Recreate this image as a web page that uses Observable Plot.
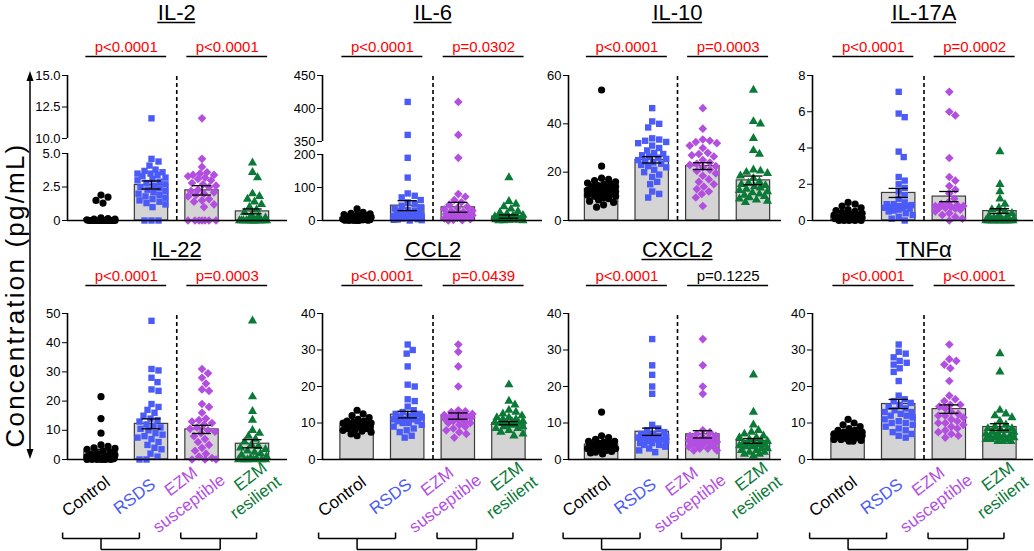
<!DOCTYPE html>
<html>
<head>
<meta charset="utf-8">
<script src="https://cdn.jsdelivr.net/npm/d3@7"></script>
<script src="https://cdn.jsdelivr.net/npm/@observablehq/plot@0.6"></script>
<style>
  html, body { margin: 0; padding: 0; background: #fff; }
  #chart { position: relative; width: 1034px; height: 551px; overflow: hidden; background: #fff;
           font-family: "Liberation Sans", Arial, Helvetica, sans-serif; }
  #ylabsvg { position: absolute; left: 0; top: 0; overflow: visible; }
</style>
</head>
<body>
<div id="chart">
  <svg id="ylabsvg" width="40" height="551">
    <text transform="translate(24,295) rotate(-90)" text-anchor="middle"
          font-family="Liberation Sans, Arial, sans-serif" font-size="26" letter-spacing="2.2" fill="#000">Concentration (pg/mL)</text>
    <line x1="30" y1="76" x2="30" y2="454" stroke="#000" stroke-width="1.5"></line>
    <polygon points="30,71 26.5,81 33.5,81" fill="#000"></polygon>
    <polygon points="30,459 26.5,449 33.5,449" fill="#000"></polygon>
  </svg>
</div>
<script>
// ---------------- groups ----------------
const groupNames = ["Control", "RSDS", "EZM susceptible", "EZM resilient"];
const groupColors = ["#000000", "#4b5bf7", "#b34fe0", "#0b7a37"];
const groupSymbols = ["circle", "square", "diamond2", "triangle"];

// ---------------- IL-2 ----------------
const il2Control = [0,0,0,0,0,0,0,0,0,0,0,0,0,0,0,0,0,0,0,0,0,0,0,0,0.05,0.1,0.1,0.15,0.2,1.3,1.5,1.75,1.9];
const il2RSDS = [11.6,4.6,4.4,4.1,3.8,3.7,3.6,3.5,3.5,3.4,3.3,3.2,3.1,3.0,2.9,2.8,2.7,2.6,2.5,2.4,2.3,2.2,2.1,2.0,1.9,1.8,1.7,1.6,1.5,1.4,1.3,1.2,1.0,0,0,0];
const il2Susceptible = [11.6,4.6,4.0,3.6,3.5,3.4,3.4,3.3,3.2,3.1,3.0,2.8,2.7,2.6,2.5,2.3,2.2,2.1,2.0,1.9,1.8,1.6,1.5,1.4,1.2,1.0,0,0,0,0,0,0,0];
const il2Resilient = [4.3,3.6,3.2,2.0,1.8,1.6,1.4,1.2,1.0,0.8,0.6,0.4,0.3,0.2,0,0,0,0,0,0,0,0,0,0,0,0,0,0,0,0];
const il2Mean = [0.1, 2.65, 2.25, 0.68];
const il2Sem = [0.08, 0.3, 0.35, 0.18];
const il2P = ["p<0.0001", "p<0.0001"];
const il2Domain = [0, 5, 10, 15];
const il2Ticks = [0, 2.5, 5, 10, 12.5, 15];

// ---------------- IL-6 ----------------
const il6Control = [35,25,22,20,18,16,15,14,12,11,10,9,8,7,6,6,5,5,4,4,3,3,2,2,1,1,0,0,0,0];
const il6RSDS = [410,360,190,130,82,75,70,62,55,50,45,40,36,32,30,28,26,24,22,20,18,16,14,12,10,8,6,4,3,2,1,0];
const il6Susceptible = [410,360,190,80,72,62,55,48,42,38,34,30,28,26,24,22,20,18,16,14,12,10,8,6,4,2,1,0];
const il6Resilient = [130,58,50,42,35,28,24,20,16,14,12,10,9,8,7,6,5,4,3,2,2,1,1,0,0,0];
const il6Mean = [8, 45, 40, 12];
const il6Sem = [1.5, 15, 15, 5];
const il6P = ["p<0.0001", "p=0.0302"];
const il6Domain = [0, 200, 350, 450];
const il6Ticks = [0, 100, 200, 350, 400, 450];

// ---------------- IL-10 ----------------
const il10Control = [54,22.5,17.5,17,16.5,16,15.5,15,15,14.5,14,14,13.5,13,13,12.5,12.5,12,12,11.5,11,11,10.5,10,10,9.5,9,8.5,8,7.5,6.5,5.5];
const il10RSDS = [46.5,41,40,38.5,34,33.5,33,32.5,32,31,30,29,28,27.5,27,26.5,26,25.5,25,24.5,24,23.5,23,22.5,22,21,20,19,18,16,15,12,11,9.5];
const il10Susceptible = [46.5,38,33.5,33,32.5,32,31,30,28,27.5,27,26.5,25,24,23.5,23,22.5,22,21,20.5,19.5,18.5,17,16,15,14,13,12,11,9.5,6];
const il10Resilient = [54,41,40,34,29,27.5,21,20.5,20,19.5,18.5,17.5,16,15.5,15,14.5,14,13.5,13,12.5,12,11.5,11,10.5,10,9.5,9,8.5,8,7.5];
const il10Mean = [13.1, 25.1, 22.5, 16.6];
const il10Sem = [0.9, 1.3, 1.4, 1.8];
const il10P = ["p<0.0001", "p=0.0003"];
const il10Domain = [0, 60];
const il10Ticks = [0, 20, 40, 60];

// ---------------- IL-17A ----------------
const il17Control = [1.0,0.9,0.8,0.7,0.6,0.55,0.5,0.45,0.4,0.35,0.3,0.3,0.25,0.2,0.2,0.15,0.15,0.1,0.1,0.1,0.05,0.05,0,0,0,0,0];
const il17RSDS = [7.1,5.9,5.7,3.8,3.5,2.4,2.2,2.0,1.8,1.6,1.4,1.2,1.0,0.9,0.9,0.85,0.8,0.8,0.75,0.75,0.7,0.7,0.65,0.6,0.55,0.5,0.4,0.3,0.2,0.1,0];
const il17Susceptible = [7.1,6.0,5.8,3.45,2.4,2.2,1.9,1.7,1.5,1.2,1.0,0.9,0.85,0.8,0.8,0.75,0.7,0.7,0.65,0.6,0.5,0.4,0.3,0.2,0.1,0];
const il17Resilient = [3.8,2.0,1.6,1.2,0.9,0.7,0.6,0.5,0.4,0.3,0.25,0.2,0.15,0.1,0.05,0,0,0,0,0,0,0,0,0,0,0,0,0];
const il17Mean = [0.2, 1.52, 1.32, 0.52];
const il17Sem = [0.05, 0.25, 0.28, 0.13];
const il17P = ["p<0.0001", "p=0.0002"];
const il17Domain = [0, 8];
const il17Ticks = [0, 2, 4, 6, 8];

// ---------------- IL-22 ----------------
const il22Control = [21.5,14,9,5,4.5,4,3.8,3.5,3,2.5,2,1.8,1.5,1.2,1,0.8,0.6,0.5,0.4,0.3,0.2,0.1,0,0,0,0,0,0];
const il22RSDS = [47.5,31,30.5,28,26.5,24,23.5,19,18,17,16,15,14,13.5,13,12,11.5,11,10.5,10,9,8.5,8,7.5,7,6,5,4,3.5,2,1,0,0];
const il22Susceptible = [31,29.5,28,26,24,23.5,19,18,16,14,13.5,13,12.5,12,11,10.5,10,9.5,9,8,7,6,5,4,3,2,1,0.5,0,0,0];
const il22Resilient = [47.5,21.5,16.5,13.5,10,9,8,7,6,5,4.5,4,3.5,3,2.5,2,1.5,1,0.5,0.3,0,0,0,0,0,0];
const il22Mean = [2.7, 12.2, 10.3, 5.4];
const il22Sem = [0.8, 1.7, 1.4, 1.4];
const il22P = ["p<0.0001", "p=0.0003"];
const il22Domain = [0, 50];
const il22Ticks = [0, 10, 20, 30, 40, 50];

// ---------------- CCL2 ----------------
const ccl2Control = [13.5,12.5,12,11.5,11,10.5,10.5,10.2,10,10,10,9.8,9.6,9.5,9.5,9.2,9,9,8.8,8.5,8.5,8.2,8,7.8,7.5,7,6.5];
const ccl2RSDS = [31.5,30,29,25.5,20.5,20,16.5,16,14.5,13.5,13,12.5,12.5,12,12,11.5,11.5,11,11,11,10.5,10.5,10,10,9.5,9,8.5,8,7.5,6.5,6];
const ccl2Susceptible = [31.5,29.5,25.5,20,13.5,13.2,13,12.5,12.2,12,12,11.8,11.5,11.5,11,11,10.5,10.5,10,10,9.5,9,8.5,8,7.5,7,6];
const ccl2Resilient = [20.5,16,15,13.5,13,12.5,12,11.5,11.5,11,11,10.5,10.5,10.2,10,10,10,9.5,9.5,9,9,8.5,8.5,8,7.5,7,6.5];
const ccl2Mean = [9.3, 12.3, 11.9, 9.95];
const ccl2Sem = [0.35, 0.9, 0.85, 0.45];
const ccl2P = ["p<0.0001", "p=0.0439"];
const ccl2Domain = [0, 40];
const ccl2Ticks = [0, 10, 20, 30, 40];

// ---------------- CXCL2 ----------------
const cxcl2Control = [13,6.5,6,5.5,5,5,4.8,4.5,4.5,4.3,4.2,4,4,3.8,3.7,3.5,3.5,3.2,3,3,2.8,2.5,2.2,2,1.8,1.5];
const cxcl2RSDS = [33,25.8,23.2,20,18,9.5,8.5,8,7.5,7,7,6.5,6.5,6.2,6,6,5.8,5.5,5.5,5,5,4.5,4.5,4,4,3.5,3,2.5,2];
const cxcl2Susceptible = [33,25.8,20,18,8,7.5,7,6.5,6.5,6,6,5.5,5.5,5.2,5,5,4.8,4.5,4.5,4,4,3.5,3.5,3,3,2.5,2.5];
const cxcl2Resilient = [23.2,13,9.5,8,7.5,7,6.5,6,6,5.5,5,5,4.5,4.5,4.2,4,4,3.8,3.5,3.5,3,3,2.5,2.5,2,2,1.5,1.5,1];
const cxcl2Mean = [4.1, 7.6, 6.9, 5.1];
const cxcl2Sem = [0.4, 1.0, 1.0, 0.65];
const cxcl2P = ["p<0.0001", "p=0.1225"];
const cxcl2Domain = [0, 40];
const cxcl2Ticks = [0, 10, 20, 30, 40];

// ---------------- TNFα ----------------
const tnfControl = [11,10,9.5,9,8.5,8,8,7.5,7.5,7.2,7,7,7,6.8,6.7,6.5,6.5,6.2,6,6,5.8,5.5,5.5,5.2,5,5];
const tnfRSDS = [31.5,29.5,29,28,27,26.5,26,25,24,21.5,17.5,16.5,16,15.5,15,14.5,14,13.5,13,13,12.5,12,12,11.5,11,10.5,10,10,9.5,9,8.5,8,7.5,7,6.5,6];
const tnfSusceptible = [31.5,27.5,27,26,25,21.5,17.5,16.5,16,15,15,14.5,14,13,12.5,12,12,11.5,11,10.5,10,10,9.5,9,8.5,8,7.5,7,6.5,6];
const tnfResilient = [29,24,13.5,12.5,12,11.5,10.5,9.5,9,8.5,8.5,8,8,7.5,7.5,7,7,6.5,6.5,6.5,6,6,6,5.5,5.5,5.5,5,5,5];
const tnfMean = [6.9, 15.2, 13.8, 8.9];
const tnfSem = [0.3, 1.25, 1.15, 0.9];
const tnfP = ["p<0.0001", "p<0.0001"];
const tnfDomain = [0, 40];
const tnfTicks = [0, 10, 20, 30, 40];

// ---------------- layout (style) ----------------
const cols = [
  {axis: 67, c0: 100.5, c3: 252, end: 287},
  {axis: 321.5, c0: 356, c3: 507.5, end: 541},
  {axis: 567.5, c0: 600.5, c3: 752, end: 780},
  {axis: 811.5, c0: 847, c3: 998.5, end: 1032}
];
// text offsets are baseline positions relative to the frame top
const rows = [
  {top: 0, frameTop: 75, frameBottom: 220, height: 240, titleDy: -55.5, ulineDy: -53, pDy: -23.5, lineDy: -19},
  {top: 240, frameTop: 313, frameBottom: 459, height: 311, titleDy: -57, ulineDy: -54, pDy: -33, lineDy: -28}
];
const dotR = [3.6, 3.6, 3.9, 3.4];
const fmt1 = d => d === 0 ? "0" : d.toFixed(1);
const fmt0 = d => String(d);

const panels = [
  {name: "IL-2", row: 0, col: 0, values: [il2Control, il2RSDS, il2Susceptible, il2Resilient], mean: il2Mean, sem: il2Sem, p: il2P, domain: il2Domain, ticks: il2Ticks, breakPx: [153, 138], fmt: fmt1},
  {name: "IL-6", row: 0, col: 1, values: [il6Control, il6RSDS, il6Susceptible, il6Resilient], mean: il6Mean, sem: il6Sem, p: il6P, domain: il6Domain, ticks: il6Ticks, breakPx: [154, 141], fmt: fmt0},
  {name: "IL-10", row: 0, col: 2, values: [il10Control, il10RSDS, il10Susceptible, il10Resilient], mean: il10Mean, sem: il10Sem, p: il10P, domain: il10Domain, ticks: il10Ticks, fmt: fmt0},
  {name: "IL-17A", row: 0, col: 3, values: [il17Control, il17RSDS, il17Susceptible, il17Resilient], mean: il17Mean, sem: il17Sem, p: il17P, domain: il17Domain, ticks: il17Ticks, fmt: fmt0},
  {name: "IL-22", row: 1, col: 0, values: [il22Control, il22RSDS, il22Susceptible, il22Resilient], mean: il22Mean, sem: il22Sem, p: il22P, domain: il22Domain, ticks: il22Ticks, fmt: fmt0},
  {name: "CCL2", row: 1, col: 1, values: [ccl2Control, ccl2RSDS, ccl2Susceptible, ccl2Resilient], mean: ccl2Mean, sem: ccl2Sem, p: ccl2P, domain: ccl2Domain, ticks: ccl2Ticks, fmt: fmt0},
  {name: "CXCL2", row: 1, col: 2, values: [cxcl2Control, cxcl2RSDS, cxcl2Susceptible, cxcl2Resilient], mean: cxcl2Mean, sem: cxcl2Sem, p: cxcl2P, domain: cxcl2Domain, ticks: cxcl2Ticks, fmt: fmt0},
  {name: "TNFα", row: 1, col: 3, values: [tnfControl, tnfRSDS, tnfSusceptible, tnfResilient], mean: tnfMean, sem: tnfSem, p: tnfP, domain: tnfDomain, ticks: tnfTicks, fmt: fmt0}
];

// rotated category labels (one entry per text line; offsets are styling)
const labelLines = [
  {g: 0, t: "Control", dx: -15, dy: 37},
  {g: 1, t: "RSDS", dx: -17, dy: 37},
  {g: 2, t: "EZM", dx: -21, dy: 22},
  {g: 2, t: "susceptible", dx: -13, dy: 44},
  {g: 3, t: "EZM", dx: -2, dy: 17},
  {g: 3, t: "resilient", dx: 3, dy: 38}
];

const measureCtx = document.createElement("canvas").getContext("2d");
function textWidth(t, size) {
  measureCtx.font = `${size}px "Liberation Sans", Arial, sans-serif`;
  return measureCtx.measureText(t).width;
}

// deterministic beeswarm: horizontal pixel offsets derived from the values
function swarm(vals, ypx, W, D) {
  const cand = [0];
  for (let k = 1; k <= W; k++) cand.push(k, -k);
  const placed = [];
  const out = new Array(vals.length);
  const order = vals.map((v, i) => i).sort((a, b) => vals[b] - vals[a]);
  for (const i of order) {
    const py = ypx(vals[i]);
    let best = 0, bestD = -1;
    for (const cx of cand) {
      let md = Infinity;
      for (const q of placed) { const d = Math.hypot(q.x - cx, q.y - py); if (d < md) md = d; }
      if (md >= D) { best = cx; bestD = md; break; }
      if (md > bestD + 1e-9) { bestD = md; best = cx; }
    }
    placed.push({x: best, y: py});
    out[i] = best;
  }
  return out;
}

function makePanel(p) {
  const c = cols[p.col], r = rows[p.row];
  const ML = 55, MR = 3;
  const step = (c.c3 - c.c0) / 3;
  const xmin = (c.axis - c.c0) / step;
  const xmax = 3 + (c.end - c.c3) / step;
  const width = Math.round(ML + (c.end - c.axis) + MR);
  const left = c.axis - ML;
  const marginTop = r.frameTop - r.top;
  const marginBottom = r.top + r.height - r.frameBottom;
  const yTop = p.domain[p.domain.length - 1];
  const yRange = p.domain.length > 2
    ? [r.frameBottom, p.breakPx[0], p.breakPx[1], r.frameTop].map(v => v - r.top)
    : [r.frameBottom - r.top, r.frameTop - r.top];
  const ypx = d3.scaleLinear().domain(p.domain).range(yRange);

  const bars = p.mean.map((m, g) => ({g, mean: m, sem: p.sem[g]}));
  const axisSegs = p.domain.length > 2
    ? [{y1: p.domain[0], y2: p.domain[1]}, {y1: p.domain[2], y2: p.domain[3]}]
    : [{y1: 0, y2: yTop}];
  const pRows = p.p.map((t, k) => ({x1: 2 * k - 0.3, x2: 2 * k + 1.3, xm: 2 * k + 0.5, t, sig: +t.slice(2) < 0.05}));
  const tw = textWidth(p.name, 22) / 2 / step;

  const marks = [
    Plot.rectY(bars, {x1: d => d.g - 0.33, x2: d => d.g + 0.33, y1: 0, y2: "mean", fill: "#d4d4d4", stroke: "#3c3c3c", strokeWidth: 1.2}),
    Plot.ruleX([1.5], {y1: 0, y2: yTop, stroke: "#000", strokeWidth: 1.6, strokeDasharray: "4,3"})
  ];
  p.values.forEach((vals, g) => {
    const off = swarm(vals, ypx, 14, 6.8);
    const pts = vals.map((v, i) => ({x: g + off[i] / step, v}));
    marks.push(Plot.dot(pts, {x: "x", y: "v", symbol: groupSymbols[g], fill: groupColors[g], r: dotR[g], stroke: "none"}));
  });
  marks.push(
    Plot.ruleX(bars, {x: "g", y1: d => d.mean - d.sem, y2: d => d.mean + d.sem, stroke: "#000", strokeWidth: 1.3}),
    Plot.ruleY(bars, {y: d => d.mean + d.sem, x1: d => d.g - 0.19, x2: d => d.g + 0.19, stroke: "#000", strokeWidth: 1.3}),
    Plot.ruleY(bars, {y: d => d.mean - d.sem, x1: d => d.g - 0.19, x2: d => d.g + 0.19, stroke: "#000", strokeWidth: 1.3}),
    Plot.ruleY([0], {stroke: "#000", strokeWidth: 1.6}),
    Plot.ruleX(axisSegs, {x: xmin, y1: "y1", y2: "y2", stroke: "#000", strokeWidth: 1.6}),
    Plot.text([p.name], {x: 1.5, text: d => d, frameAnchor: "top", lineAnchor: "bottom", dy: r.titleDy, fontSize: 22, fill: "#000"}),
    Plot.ruleY([yTop], {x1: 1.5 - tw, x2: 1.5 + tw, dy: r.ulineDy, stroke: "#000", strokeWidth: 1.5}),
    Plot.ruleY(pRows, {x1: "x1", x2: "x2", y: yTop, dy: r.lineDy, stroke: "#000", strokeWidth: 1.6}),
    Plot.text(pRows.filter(d => d.sig), {x: "xm", text: "t", frameAnchor: "top", lineAnchor: "bottom", dy: r.pDy, fontSize: 15, fill: "#ff0000"}),
    Plot.text(pRows.filter(d => !d.sig), {x: "xm", text: "t", frameAnchor: "top", lineAnchor: "bottom", dy: r.pDy, fontSize: 15, fill: "#000"})
  );

  if (p.row === 1) {
    const yb = px => ypx.invert(yRange[0] + px);
    for (const l of labelLines) {
      marks.push(Plot.text([l.t], {x: l.g, y: 0, text: d => d, dx: l.dx, dy: l.dy, rotate: -37,
        fill: groupColors[l.g], fontSize: 17, textAnchor: "middle"}));
    }
    const brackets = [
      {x1: -0.76, y1: yb(79), x2: 0.76, y2: yb(79)},
      {x1: -0.76, y1: yb(73), x2: -0.76, y2: yb(79)},
      {x1: 0.76, y1: yb(73), x2: 0.76, y2: yb(79)},
      {x1: 1.58, y1: yb(79), x2: 3.08, y2: yb(79)},
      {x1: 1.58, y1: yb(73), x2: 1.58, y2: yb(79)},
      {x1: 3.08, y1: yb(73), x2: 3.08, y2: yb(79)},
      {x1: 0, y1: yb(79), x2: 0, y2: yb(90)},
      {x1: 2.36, y1: yb(79), x2: 2.36, y2: yb(90)},
      {x1: 0, y1: yb(90), x2: 2.36, y2: yb(90)}
    ];
    marks.push(Plot.link(brackets, {x1: "x1", y1: "y1", x2: "x2", y2: "y2", stroke: "#000", strokeWidth: 1.5}));
  }

  return Plot.plot({
    width, height: r.height,
    marginLeft: ML, marginRight: MR, marginTop, marginBottom,
    style: `position:absolute;left:${left}px;top:${r.top}px;overflow:visible;background:transparent;` +
           `font-family:"Liberation Sans",Arial,Helvetica,sans-serif;font-size:13px;color:#000;max-width:none;`,
    x: {domain: [xmin, xmax], axis: null},
    y: {type: "linear", domain: p.domain, range: yRange, ticks: p.ticks, tickFormat: p.fmt,
        tickSize: 5, tickPadding: 2, label: null},
    marks
  });
}

const chart = document.getElementById("chart");
for (const p of panels) chart.appendChild(makePanel(p));
</script>
</body>
</html>
